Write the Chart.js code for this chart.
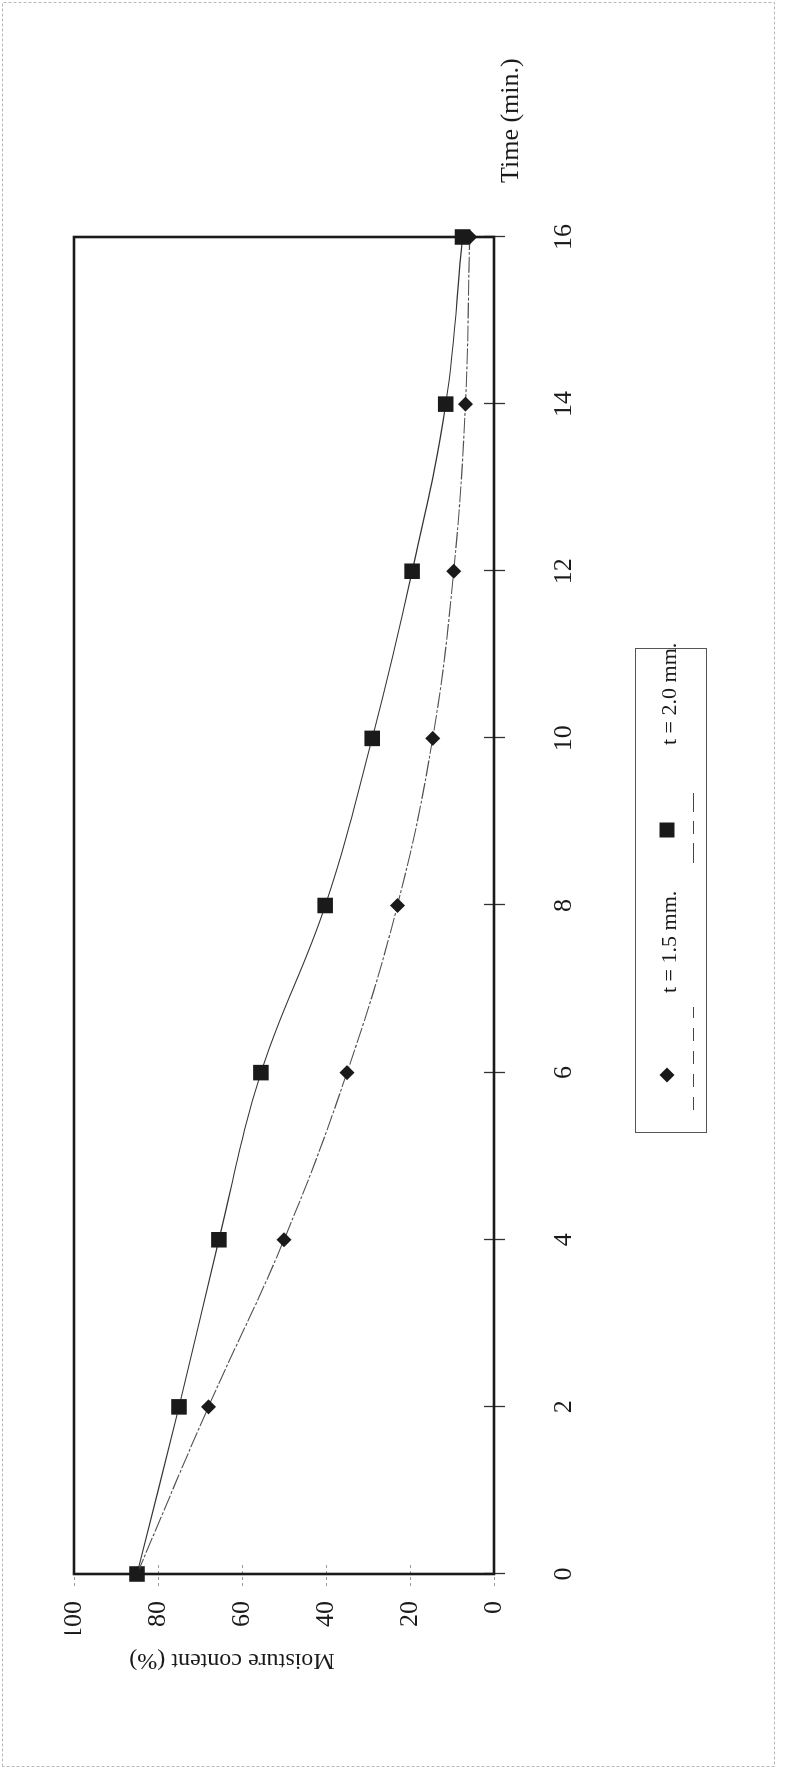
<!DOCTYPE html>
<html>
<head>
<meta charset="utf-8">
<script src="https://cdn.jsdelivr.net/npm/chart.js@4/dist/chart.umd.min.js"></script>
<style>
  html, body { margin: 0; padding: 0; background: #fff; }
  body { width: 785px; height: 1770px; overflow: hidden; position: relative; }
  /* The figure is laid out landscape and turned a quarter turn onto the portrait page */
  #turn {
    position: absolute; left: 0; top: 0;
    width: 1770px; height: 785px;
    transform-origin: 0 0;
    transform: translate(0px, 1770px) rotate(-90deg);
  }
  canvas { display: block; }
</style>
</head>
<body>
<div id="turn"><canvas id="c" width="1770" height="785"></canvas></div>
<script>
// Drying curves: moisture content against time for two slice thicknesses
const times = [0, 2, 4, 6, 8, 10, 12, 14, 16];
const moisture15 = [85, 68, 50, 35, 23, 14.6, 9.6, 6.8, 5.8];
const moisture20 = [85, 75, 65.5, 55.5, 40.2, 29, 19.5, 11.5, 7.5];
const seriesLabels = ['t = 1.5 mm.', 't = 2.0 mm.'];
const timeTicks = [0, 2, 4, 6, 8, 10, 12, 14, 16];
const moistureTicks = [0, 20, 40, 60, 80, 100];
const xTitle = 'Time (min.)';
const yTitle = 'Moisture content (%)';

const SERIF = "'Liberation Serif', 'Times New Roman', serif";
const INK = '#1a1a1a';

const pairs = (xs, ys) => xs.map((x, i) => ({ x: x, y: ys[i] }));

const decor = {
  id: 'decor',
  beforeDraw(chart) {
    const ctx = chart.ctx;
    ctx.save();
    ctx.fillStyle = '#fff';
    ctx.fillRect(0, 0, chart.width, chart.height);
    // thin page frame
    ctx.strokeStyle = '#b8b8b8';
    ctx.lineWidth = 1;
    ctx.setLineDash([3, 2]);
    ctx.strokeRect(3.5, 2.5, 1764, 772);
    ctx.restore();
  },
  beforeDatasetsDraw(chart) {
    const ctx = chart.ctx;
    const a = chart.chartArea;
    const xs = chart.scales.x, ys = chart.scales.y;
    ctx.save();
    // y tick marks (light, crossing the axis)
    ctx.strokeStyle = '#9a9a9a';
    ctx.lineWidth = 1;
    ctx.setLineDash([3, 3]);
    moistureTicks.forEach(v => {
      const y = Math.round(ys.getPixelForValue(v)) + 0.5;
      ctx.beginPath();
      ctx.moveTo(a.left - 12, y);
      ctx.lineTo(a.left + 12, y);
      ctx.stroke();
    });
    // x tick marks (crossing the axis)
    ctx.setLineDash([]);
    ctx.strokeStyle = '#333';
    ctx.lineWidth = 1.3;
    timeTicks.forEach(v => {
      const x = Math.round(xs.getPixelForValue(v)) + 0.5;
      ctx.beginPath();
      ctx.moveTo(x, a.bottom - 10);
      ctx.lineTo(x, a.bottom + 11);
      ctx.stroke();
    });
    // plot frame
    ctx.strokeStyle = INK;
    ctx.lineWidth = 2.6;
    ctx.strokeRect(a.left, a.top, a.right - a.left, a.bottom - a.top);
    ctx.restore();
  },
  afterDraw(chart) {
    const ctx = chart.ctx;
    ctx.save();
    ctx.fillStyle = INK;
    // axis titles
    ctx.font = '26px ' + SERIF;
    ctx.textAlign = 'left';
    ctx.textBaseline = 'alphabetic';
    ctx.fillText(xTitle, 1587, 518);
    ctx.save();
    ctx.translate(110, 232);
    ctx.rotate(-Math.PI / 2);
    ctx.font = '24px ' + SERIF;
    ctx.textAlign = 'center';
    ctx.textBaseline = 'middle';
    ctx.fillText(yTitle, 0, 0);
    ctx.restore();

    // legend
    const ds = chart.data.datasets;
    ctx.strokeStyle = '#555';
    ctx.lineWidth = 1;
    ctx.strokeRect(637.5, 635.5, 484, 71);
    const items = [
      { mx: 695, tx: 777, lx0: 660, lx1: 763, dash: [13, 10] },
      { mx: 940, tx: 1025, lx0: 907, lx1: 977, dash: [20, 9, 13, 9] }
    ];
    items.forEach((it, i) => {
      const d = ds[i];
      ctx.fillStyle = INK;
      ctx.beginPath();
      if (d.pointStyle === 'rectRot') {
        const r = 7.5;
        ctx.moveTo(it.mx, 667 - r);
        ctx.lineTo(it.mx + r, 667);
        ctx.lineTo(it.mx, 667 + r);
        ctx.lineTo(it.mx - r, 667);
        ctx.closePath();
      } else {
        ctx.rect(it.mx - 7.5, 667 - 7.5, 15, 15);
      }
      ctx.fill();
      ctx.strokeStyle = '#444';
      ctx.lineWidth = 1.2;
      ctx.setLineDash(it.dash);
      ctx.beginPath();
      ctx.moveTo(it.lx0, 693.5);
      ctx.lineTo(it.lx1, 693.5);
      ctx.stroke();
      ctx.setLineDash([]);
      ctx.font = '22px ' + SERIF;
      ctx.textAlign = 'left';
      ctx.textBaseline = 'middle';
      ctx.fillText(d.label, it.tx, 670);
    });
    ctx.restore();
  }
};

new Chart(document.getElementById('c'), {
  type: 'line',
  data: {
    datasets: [
      {
        label: seriesLabels[0],
        data: pairs(times, moisture15),
        borderColor: '#505050',
        borderWidth: 1.1,
        borderDash: [16, 2, 3, 2],
        pointStyle: 'rectRot',
        pointRadius: 7.5,
        pointBackgroundColor: INK,
        pointBorderWidth: 0,
        tension: 0.4,
        clip: false
      },
      {
        label: seriesLabels[1],
        data: pairs(times, moisture20),
        borderColor: '#333',
        borderWidth: 1.1,
        pointStyle: 'rect',
        pointRadius: 11,
        pointBackgroundColor: INK,
        pointBorderWidth: 0,
        tension: 0.4,
        clip: false
      }
    ]
  },
  options: {
    responsive: false,
    animation: false,
    devicePixelRatio: 1,
    layout: { padding: { left: 136, right: 237, top: 74, bottom: 191 } },
    plugins: { legend: { display: false }, tooltip: { enabled: false } },
    scales: {
      x: {
        type: 'linear',
        position: 'bottom',
        min: 0,
        max: 16,
        afterBuildTicks: s => { s.ticks = timeTicks.map(v => ({ value: v })); },
        afterFit: s => { s.height = 100; },
        grid: { display: false, drawTicks: false },
        border: { display: false },
        ticks: { color: INK, padding: 55, maxRotation: 0, font: { family: SERIF, size: 26 } }
      },
      y: {
        type: 'linear',
        min: 0,
        max: 100,
        afterBuildTicks: s => { s.ticks = moistureTicks.map(v => ({ value: v })); },
        afterFit: s => { s.width = 60; },
        grid: { display: false, drawTicks: false },
        border: { display: false },
        ticks: { color: INK, padding: 27, font: { family: SERIF, size: 26 } }
      }
    }
  },
  plugins: [decor]
});
</script>
</body>
</html>
